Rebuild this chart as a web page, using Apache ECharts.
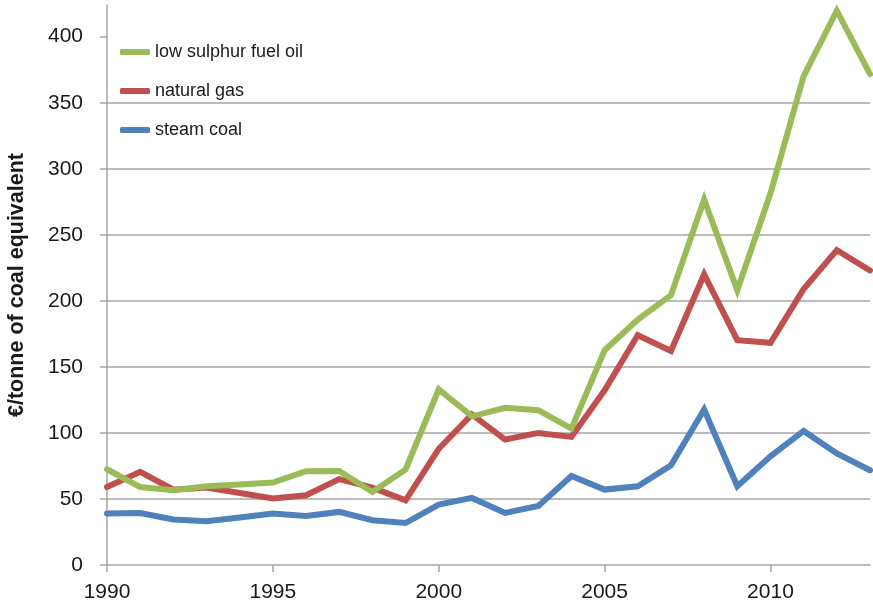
<!DOCTYPE html>
<html>
<head>
<meta charset="utf-8">
<style>
  html, body { margin: 0; padding: 0; background: #ffffff; }
  #chart { width: 873px; height: 610px; }
</style>
<script src="https://cdn.jsdelivr.net/npm/echarts@6/dist/echarts.min.js"></script>
</head>
<body>
<div id="chart"></div>
<script>
// Annual prices, €/tonne of coal equivalent
const years = ['1990','1991','1992','1993','1994','1995','1996','1997','1998','1999',
               '2000','2001','2002','2003','2004','2005','2006','2007','2008','2009',
               '2010','2011','2012','2013'];

const fuelOil = [72.5, 59, 56.6, 59.6, 60.9, 62.4, 71, 71.2, 55.3, 72.3,
                 132.9, 112.6, 119, 117.2, 103.3, 162.6, 185.9, 204.3, 276.8, 208,
                 281.4, 370.2, 419.7, 371.7];

const naturalGas = [59, 70.5, 57, 58.6, 54.5, 50.3, 52.8, 65, 58.6, 49,
                    88, 114, 95, 100, 97, 132.3, 174, 162.1, 220, 170.2,
                    168.2, 209, 238.4, 223];

const steamCoal = [39, 39.4, 34.4, 33.1, 35.9, 39, 37.1, 40.2, 33.9, 31.8,
                   45.7, 50.8, 39.4, 44.7, 67.4, 57.1, 59.6, 75.5, 117.7, 59.6,
                   82.3, 101.5, 84.4, 71.7];

const yTicks = [0, 50, 100, 150, 200, 250, 300, 350, 400];

const seriesNames = ['low sulphur fuel oil', 'natural gas', 'steam coal'];
const seriesColors = ['#9BBB59', '#C0504D', '#4F81BD'];
const seriesData = [fuelOil, naturalGas, steamCoal];

const axisGray = '#a6a6a6';
const textColor = '#1a1a1a';
const font = 'Liberation Sans, Arial, Helvetica, sans-serif';

const chart = echarts.init(document.getElementById('chart'), null, { renderer: 'canvas' });

chart.setOption({
  animation: false,
  backgroundColor: '#ffffff',
  grid: { left: 107, right: 3, top: 5, bottom: 45, containLabel: false, outerBoundsMode: 'none' },
  legend: {
    orient: 'vertical',
    left: 115,
    top: 38,
    itemGap: 21,
    itemWidth: 30,
    itemHeight: 6,
    icon: 'roundRect',
    textStyle: { fontFamily: font, fontSize: 18, color: textColor },
    data: seriesNames
  },
  xAxis: {
    type: 'category',
    data: years,
    boundaryGap: false,
    axisLine: { show: true, lineStyle: { color: axisGray, width: 1.5 } },
    axisTick: { show: true, interval: 4, length: 7, lineStyle: { color: axisGray, width: 1.5 } },
    axisLabel: { interval: 4, margin: 17, fontFamily: font, fontSize: 21, color: textColor },
    splitLine: { show: false }
  },
  yAxis: {
    type: 'value',
    min: 0,
    max: 424,
    interval: 50,
    name: '€/tonne of coal equivalent',
    nameLocation: 'middle',
    nameGap: 79,
    nameTextStyle: { fontFamily: font, fontSize: 21.5, fontWeight: 'bold', color: textColor },
    axisLine: { show: true, lineStyle: { color: axisGray, width: 1.5 } },
    axisTick: { show: true, length: 7, customValues: yTicks, lineStyle: { color: axisGray, width: 1.5 } },
    axisLabel: { margin: 24, fontFamily: font, fontSize: 21, color: textColor, customValues: yTicks },
    splitLine: { show: true, showMinLine: false, showMaxLine: false, lineStyle: { color: axisGray, width: 1.5 } }
  },
  series: seriesNames.map((name, i) => ({
    name: name,
    type: 'line',
    data: seriesData[i],
    showSymbol: false,
    symbol: 'none',
    color: seriesColors[i],
    lineStyle: { color: seriesColors[i], width: 6, cap: 'round', join: 'miter' },
    z: 3 - i
  }))
});
</script>
</body>
</html>
